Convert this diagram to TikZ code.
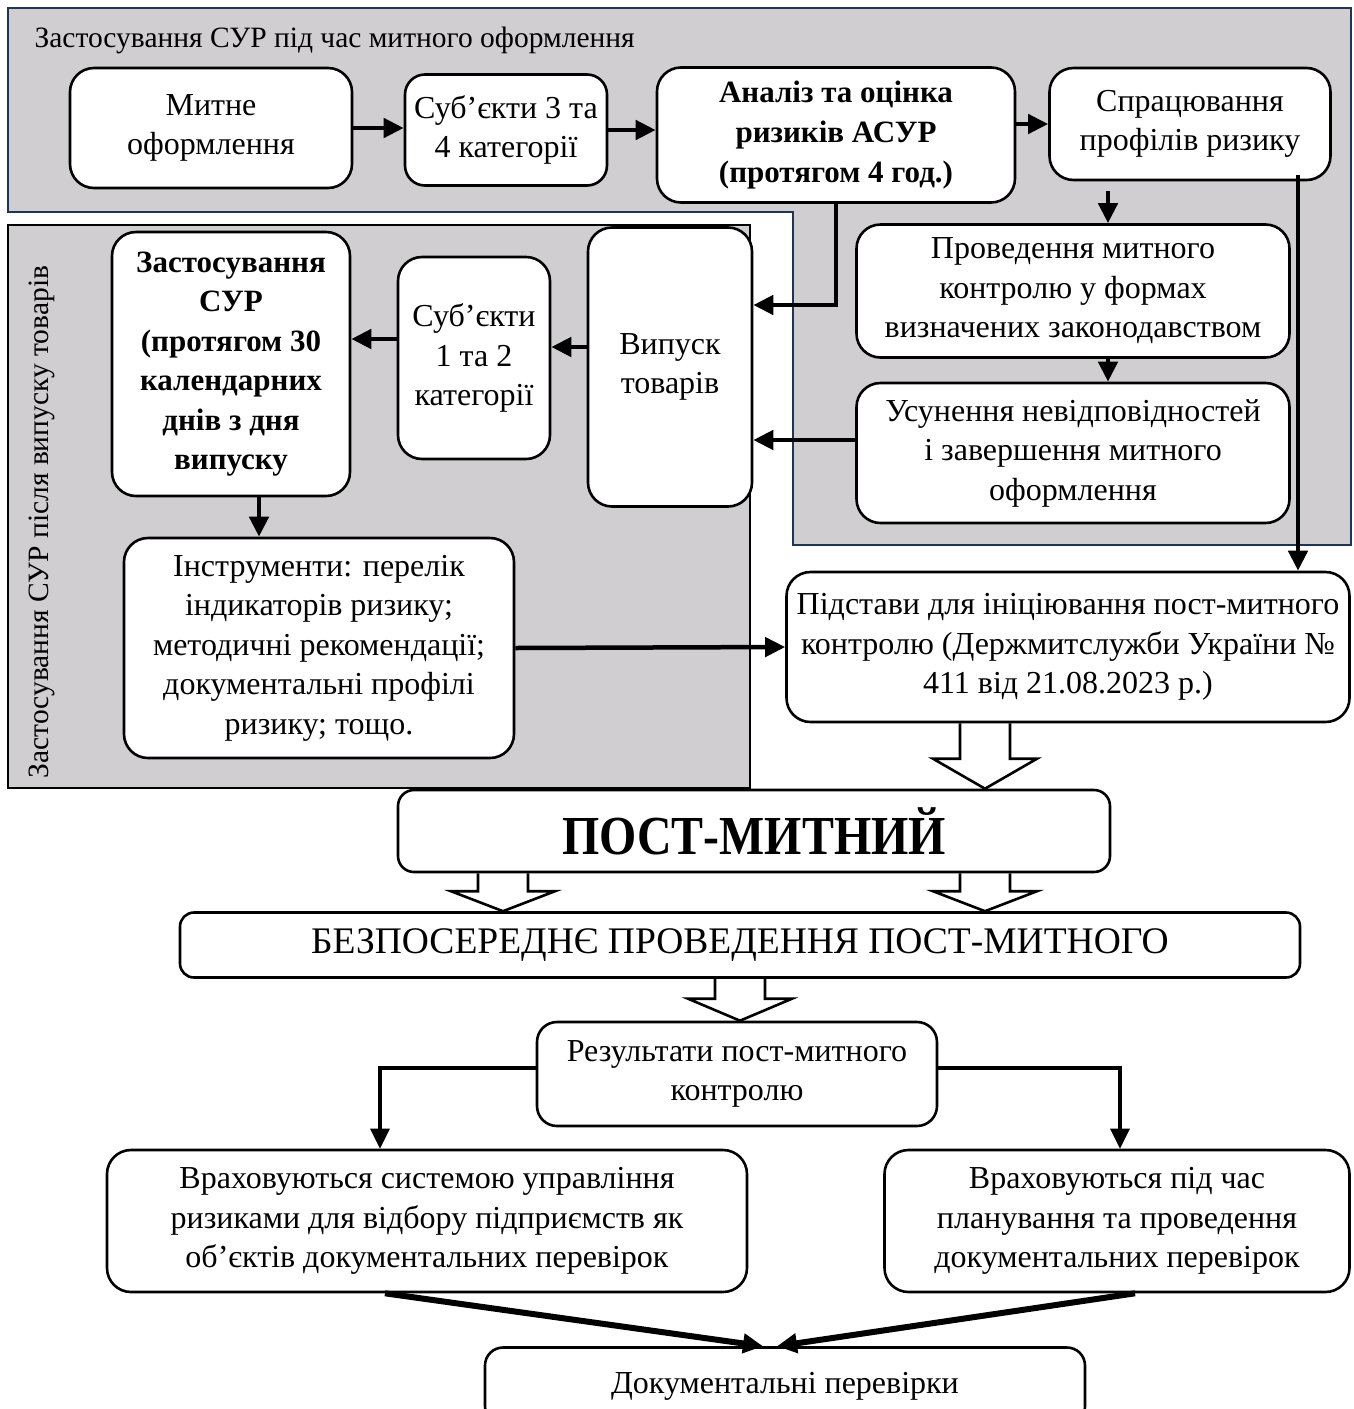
\documentclass[tikz,border=0pt]{standalone}
\usepackage{fontspec}
\usepackage{graphicx}
\setmainfont{Liberation Serif}
\usetikzlibrary{arrows.meta}
\usetikzlibrary{calc}
\usetikzlibrary{backgrounds}

\definecolor{panelgray}{HTML}{D0CED0}
\definecolor{panelblue}{HTML}{1F3354}

\tikzset{
  box/.style={draw, line width=2.6pt, rounded corners=24pt, fill=white,
    align=center, inner sep=0pt, font=\fontsize{32}{39.5}\selectfont},
  arr/.style={line width=4.5pt, -{Triangle[length=20pt,width=19pt]}},
  fat/.style={draw, line width=2.6pt, fill=white, line join=miter},
}

\newcommand{\fatdown}[4]{%
  \path (#1,0) coordinate (fx) {};
  \path (#2.south -| fx) coordinate (ft) {};
  \path (#3.north -| fx) coordinate (fb) {};
  \draw[fat] ($(ft)+(-25,0)$) -- ($(fb)+(-25,-#4)$) -- ($(fb)+(-52,-#4)$) -- (fb)
    -- ($(fb)+(52,-#4)$) -- ($(fb)+(25,-#4)$) -- ($(ft)+(25,0)$);
}

\begin{document}
\begin{tikzpicture}[x=1pt, y=-1pt]
  \useasboundingbox (0,0) rectangle (1353,1409);

  \begin{scope}[on background layer]
    \draw[panelblue, line width=2pt, fill=panelgray]
      (8,8) -- (1351,8) -- (1351,545) -- (793,545) -- (793,212) -- (8,212) -- cycle;
    \draw[line width=2pt, fill=panelgray] (8,225) rectangle (750,788);
  \end{scope}

  \node (title) [anchor=west, font=\fontsize{29.5}{34}\selectfont] at (31,40)
    {Застосування СУР під час митного оформлення};
  \node (side) [rotate=90, font=\fontsize{29.5}{34}\selectfont] at (42,522)
    {Застосування СУР після випуску товарів};

  \node (mytne) [box, minimum width=282, minimum height=120] at (211,128)
    {Митне\\оформлення};
  \node (sub34) [box, minimum width=202, minimum height=111, rounded corners=20pt] at (506,130)
    {Суб’єкти 3 та\\4 категорії};
  \node (analiz) [box, minimum width=358, minimum height=135, font=\fontsize{31}{40}\selectfont\bfseries] at (836,135)
    {Аналіз та оцінка\\ризиків АСУР\\(протягом 4 год.)};
  \node (sprac) [box, minimum width=281, minimum height=112] at (1190,124)
    {Спрацювання\\профілів ризику};
  \node (proved) [box, minimum width=433, minimum height=133] at (1073,291)
    {Проведення митного\\контролю у формах\\визначених законодавством};
  \node (usun) [box, minimum width=433, minimum height=140] at (1073,453)
    {Усунення невідповідностей\\і завершення митного\\оформлення};
  \node (vypusk) [box, minimum width=164, minimum height=279] at (670,367)
    {Випуск\\товарів};
  \node (sub12) [box, minimum width=152, minimum height=202] at (474,358)
    {Суб’єкти\\1 та 2\\категорії};
  \node (zastos) [box, minimum width=238, minimum height=264, font=\fontsize{31}{39.5}\selectfont\bfseries] at (231,364)
    {Застосування\\СУР\\(протягом 30\\календарних\\днів з дня\\випуску};
  \node (instr) [box, minimum width=390, minimum height=220] at (319,648)
    {Інструменти: перелік\\індикаторів ризику;\\методичні рекомендації;\\документальні профілі\\ризику; тощо.};
  \node (pidst) [box, minimum width=563, minimum height=150] at (1068,647)
    {Підстави для ініціювання пост-митного\\контролю (Держмитслужби України №\\411 від 21.08.2023 р.)};
  \node (post) [box, minimum width=712, minimum height=82, rounded corners=16pt, font=\fontsize{55}{60}\selectfont\bfseries] at (754,831)
    {\scalebox{0.87}[1]{ПОСТ-МИТНИЙ}};
  \node (bezp) [box, minimum width=1120, minimum height=65, rounded corners=14pt, font=\fontsize{37.5}{42}\selectfont] at (740,945)
    {БЕЗПОСЕРЕДНЄ ПРОВЕДЕННЯ ПОСТ-МИТНОГО};
  \node (rezult) [box, minimum width=400, minimum height=104, rounded corners=20pt] at (737,1074)
    {Результати пост-митного\\контролю};
  \node (vrah1) [box, minimum width=640, minimum height=142] at (427,1221)
    {Враховуються системою управління\\ризиками для відбору підприємств як\\об’єктів документальних перевірок};
  \node (vrah2) [box, minimum width=465, minimum height=142] at (1117,1221)
    {Враховуються під час\\планування та проведення\\документальних перевірок};
  \node (dok) [box, minimum width=600, minimum height=77, rounded corners=18pt] at (785,1386)
    {Документальні перевірки};

  \begin{scope}[on background layer]
    \fatdown{985}{pidst}{post}{30}
    \fatdown{503}{post}{bezp}{20}
    \fatdown{985}{post}{bezp}{20}
    \fatdown{740}{bezp}{rezult}{22}
  \end{scope}

  \draw[arr] (mytne.east) -- (mytne.east -| sub34.west);
  \draw[arr] (sub34.east) -- (sub34.east -| analiz.west);
  \draw[arr] (sprac.west -| analiz.east) -- (sprac.west);

  \path (node cs:name=sprac,anchor=south) +(-82,10) coordinate (spd) {};
  \draw[arr] (spd) -- (spd |- proved.north);
  \draw[arr] (proved.south -| spd) -- (usun.north -| spd);
  \path (node cs:name=sprac,anchor=south) +(108,-6) coordinate (spr) {};
  \draw[arr] (spr) -- (spr |- pidst.north);

  \path (node cs:name=vypusk,anchor=east) +(0,-62) coordinate (vpa) {};
  \draw[arr] (analiz.south) |- (vpa);
  \path (node cs:name=usun,anchor=west) +(0,-13) coordinate (usw) {};
  \draw[arr] (usw) -- (usw -| vypusk.east);
  \path (node cs:name=vypusk,anchor=west) +(0,-20) coordinate (vpw) {};
  \draw[arr] (vpw) -- (vpw -| sub12.east);
  \path (node cs:name=sub12,anchor=west) +(0,-19) coordinate (s12w) {};
  \draw[arr] (s12w) -- (s12w -| zastos.east);
  \path (node cs:name=zastos,anchor=south) +(28,0) coordinate (zss) {};
  \draw[arr] (zss) -- (zss |- instr.north);
  \draw[arr] (instr.east) -- (pidst.west);

  \path (node cs:name=rezult,anchor=west) +(0,-6) coordinate (rzw) {};
  \path (node cs:name=rezult,anchor=east) +(0,-6) coordinate (rze) {};
  \path (node cs:name=vrah1,anchor=north) +(-47,0) coordinate (vr1) {};
  \path (node cs:name=vrah2,anchor=north) +(3,0) coordinate (vr2) {};
  \draw[arr, line width=3.5pt] (rzw) -| (vr1);
  \draw[arr, line width=3.5pt] (rze) -| (vr2);

  \path (node cs:name=vrah1,anchor=south) +(-42,0) coordinate (vr1s) {};
  \path (node cs:name=vrah2,anchor=south) +(18,0) coordinate (vr2s) {};
  \path (node cs:name=dok,anchor=north) +(-22,0) coordinate (dkl) {};
  \path (node cs:name=dok,anchor=north) +(-8,0) coordinate (dkr) {};
  \draw[arr, line width=6pt] (vr1s) -- (dkl);
  \draw[arr, line width=6pt] (vr2s) -- (dkr);
\end{tikzpicture}
\end{document}
